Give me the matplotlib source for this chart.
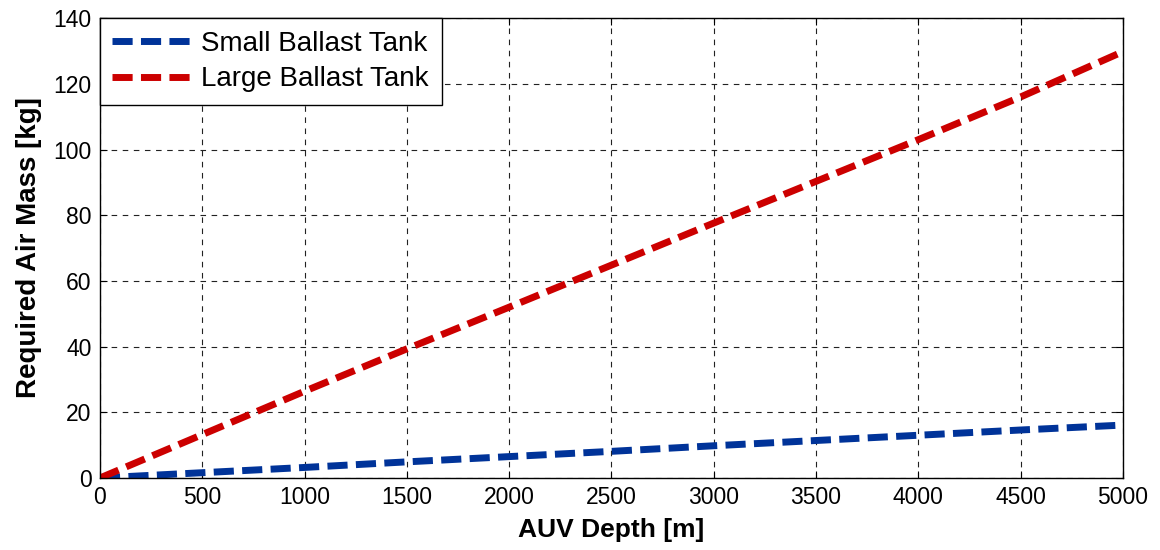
import matplotlib
matplotlib.use("Agg")
import matplotlib.pyplot as plt
import numpy as np

# depth [m] and required air mass [kg]
depth = [0, 500, 1000, 1500, 2000, 2500, 3000, 3500, 4000, 4500, 5000]
small_tank = [0, 1.6, 3.2, 4.9, 6.5, 8.1, 9.8, 11.4, 13.0, 14.6, 16.1]
large_tank = [0, 13.2, 26.4, 39.3, 52.0, 64.8, 77.6, 90.3, 103.0, 116.0, 129.8]

plt.rcParams['font.family'] = ['Liberation Sans', 'DejaVu Sans']

fig = plt.figure(figsize=(11.6, 5.5), dpi=100)
ax = fig.add_axes([0.0862, 0.131, 0.8818, 0.836])

ax.plot(depth, small_tank, color='#003399', lw=5, ls=(0, (2.9, 1.2)), label='Small Ballast Tank')
ax.plot(depth, large_tank, color='#cc0000', lw=5, ls=(0, (2.9, 1.2)), label='Large Ballast Tank')

ax.set_xlim(0, 5000)
ax.set_ylim(0, 140)
ax.set_xticks(np.arange(0, 5001, 500))
ax.set_yticks(np.arange(0, 141, 20))
ax.grid(True, color='#222222', ls=(0, (5, 5)), lw=0.8)
ax.tick_params(labelsize=16.5, direction='in', length=5, top=True, right=True, pad=6)
for s in ax.spines.values():
    s.set_linewidth(1.0)

ax.set_xlabel('AUV Depth [m]', fontsize=19, fontweight='bold', labelpad=6)
ax.set_ylabel('Required Air Mass [kg]', fontsize=20, fontweight='bold', labelpad=8)

leg = ax.legend(loc='upper left', fontsize=20, fancybox=False, framealpha=1,
                edgecolor='black', handlelength=2.9, borderaxespad=0,
                borderpad=0.45, labelspacing=0.35, handletextpad=0.3)
leg.get_frame().set_linewidth(1.0)

fig.savefig('out.png', dpi=100)
